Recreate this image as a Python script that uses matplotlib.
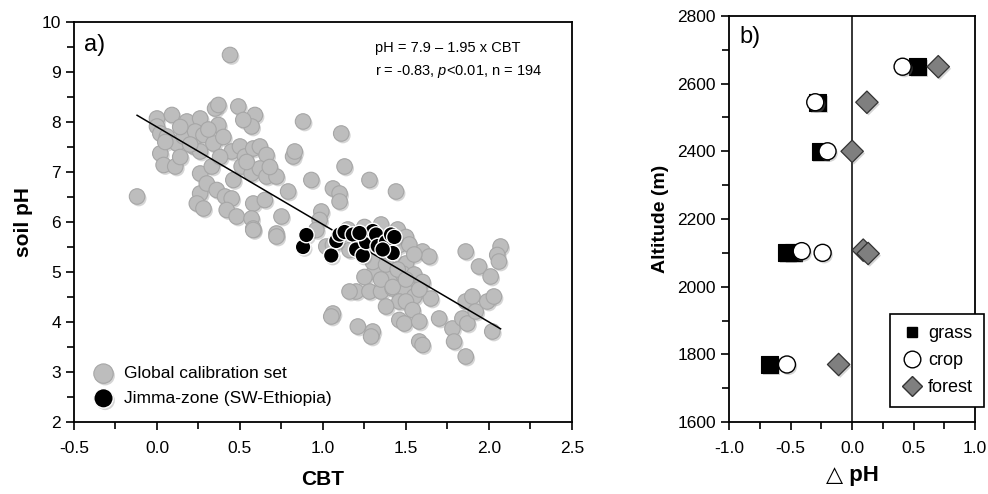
import matplotlib
matplotlib.use("Agg")
import matplotlib.pyplot as plt
from matplotlib.ticker import MultipleLocator
from matplotlib.lines import Line2D
import matplotlib.patheffects as pe
import numpy as np

plt.rcParams['font.family'] = ['Liberation Sans', 'DejaVu Sans']
plt.rcParams['mathtext.fontset'] = 'custom'
plt.rcParams['mathtext.rm'] = 'Liberation Sans'
plt.rcParams['mathtext.it'] = 'Liberation Sans:italic'

# global calibration set (CBT, soil pH)
glob_cbt = [0.44, -0.12, 0.0, 0.09, 0.0, 0.18, 0.26, 0.35, 0.37, 0.49, 0.59, 0.57, 0.52,
            0.02, 0.06, 0.12, 0.16, 0.23, 0.28, 0.22, 0.34, 0.37, 0.02, 0.04, 0.11, 0.26,
            0.26, 0.33, 0.45, 0.50, 0.53, 0.58, 0.62, 0.66, 0.51, 0.57, 0.62, 0.66, 0.72,
            0.46, 0.26, 0.30, 0.36, 0.41, 0.45, 0.24, 0.28, 0.42, 0.48, 0.58, 0.57, 0.65,
            0.58, 0.72, 0.79, 0.75, 0.82, 0.83, 0.88, 0.93, 0.99, 1.06, 1.11, 1.13, 1.10,
            1.10, 1.28, 1.44, 0.98, 0.96, 1.24,
            0.72, 0.58, 1.02, 1.06, 1.16, 1.28, 1.50, 1.46, 1.60, 1.64, 1.86, 2.07, 2.05,
            2.06, 1.94, 2.01, 1.31, 1.40, 1.48, 1.20, 1.16, 1.28, 1.35, 1.42, 1.50, 1.55,
            1.46, 1.50, 1.54, 1.65, 1.38, 1.06, 1.05, 1.21, 1.30, 1.29, 1.46, 1.49, 1.58,
            1.70, 1.58, 1.60, 1.78, 1.79, 1.84, 1.87, 1.86, 1.90, 1.92, 1.99, 2.03, 2.02,
            1.86, 1.15, 1.25, 1.35, 1.45, 1.50, 1.52, 1.55, 1.30, 1.38, 1.45, 1.55, 1.60,
            1.35, 1.25, 1.42, 1.50, 1.58,
            0.05, 0.14, 0.31, 0.40, 0.20, 0.54, 0.68, 0.38, 0.14]
glob_ph = [9.34, 6.51, 8.07, 8.14, 7.91, 8.01, 8.07, 8.27, 8.34, 8.31, 8.14, 7.91, 8.04,
           7.77, 7.71, 7.57, 7.71, 7.81, 7.74, 7.51, 7.57, 7.94, 7.37, 7.14, 7.11, 6.97,
           7.41, 7.11, 7.41, 7.51, 7.31, 7.47, 7.51, 7.34, 7.11, 6.97, 7.07, 6.91, 6.91,
           6.84, 6.57, 6.77, 6.64, 6.51, 6.47, 6.37, 6.27, 6.24, 6.11, 6.37, 6.07, 6.44,
           5.87, 5.77, 6.61, 6.11, 7.31, 7.41, 8.01, 6.84, 6.21, 6.67, 7.77, 7.11, 6.57,
           6.41, 6.84, 6.61, 6.04, 5.84, 5.84,
           5.71, 5.84, 5.51, 5.54, 5.44, 5.31, 5.17, 5.54, 5.41, 5.31, 5.41, 5.51, 5.34,
           5.21, 5.11, 4.91, 5.01, 4.87, 4.97, 4.61, 4.61, 4.61, 4.61, 4.67, 4.61, 4.51,
           4.41, 4.41, 4.24, 4.47, 4.31, 4.17, 4.11, 3.91, 3.81, 3.71, 4.04, 3.97, 4.01,
           4.07, 3.61, 3.54, 3.87, 3.61, 4.07, 3.97, 4.41, 4.51, 4.21, 4.41, 4.51, 3.81,
           3.31, 5.85, 5.90, 5.95, 5.85, 5.70, 5.55, 5.35, 5.20, 5.15, 5.05, 4.95, 4.80,
           4.85, 4.90, 4.70, 4.85, 4.65,
           7.60, 7.90, 7.85, 7.70, 7.55, 7.20, 7.10, 7.30, 7.30]

# Jimma zone (SW Ethiopia)
jim_cbt = [0.88, 0.90, 1.05, 1.08, 1.10, 1.13, 1.18, 1.20, 1.24, 1.26, 1.30, 1.32, 1.33,
           1.38, 1.41, 1.42, 1.43, 1.22, 1.36]
jim_ph = [5.50, 5.74, 5.33, 5.62, 5.75, 5.80, 5.75, 5.45, 5.33, 5.60, 5.82, 5.75, 5.52,
          5.60, 5.75, 5.38, 5.70, 5.78, 5.45]

# regression pH = 7.9 - 1.95 x CBT
fit_coef = [-1.95, 7.9]
fit_x = [-0.12, 2.07]

# panel b: delta pH vs altitude
grass_dph = [0.53, -0.28, -0.26, -0.53, -0.48, -0.67]
grass_alt = [2650, 2545, 2400, 2100, 2100, 1770]
crop_dph = [0.41, -0.30, -0.20, -0.41, -0.24, -0.53]
crop_alt = [2650, 2545, 2400, 2105, 2100, 1770]
forest_dph = [0.70, 0.12, 0.0, 0.09, 0.13, -0.11]
forest_alt = [2650, 2545, 2400, 2108, 2098, 1770]

shadow = [pe.SimplePatchShadow(offset=(1.2, -1.5), shadow_rgbFace='#888888', alpha=0.35),
          pe.Normal()]

fig = plt.figure(figsize=(9.88, 4.94), dpi=100)
ax1 = fig.add_axes([0.0749, 0.1457, 0.504, 0.8098])
ax2 = fig.add_axes([0.738, 0.1457, 0.249, 0.822])

# ---- panel a
ax1.scatter(glob_cbt, glob_ph, s=125, c='#bdbdbd', edgecolors='#a6a6a6', linewidths=0.8,
            zorder=2, label='Global calibration set', path_effects=shadow)
ax1.scatter(jim_cbt, jim_ph, s=125, c='black', edgecolors='white', linewidths=1.0,
            zorder=4, label='Jimma-zone (SW-Ethiopia)', path_effects=shadow)
fx = np.array(fit_x)
ax1.plot(fx, np.polyval(fit_coef, fx), color='black', lw=1.1, zorder=3)

ax1.set_xlim(-0.5, 2.5)
ax1.set_ylim(2, 10)
ax1.xaxis.set_major_locator(MultipleLocator(0.5))
ax1.xaxis.set_minor_locator(MultipleLocator(0.25))
ax1.yaxis.set_major_locator(MultipleLocator(1))
ax1.yaxis.set_minor_locator(MultipleLocator(0.5))
ax1.xaxis.set_major_formatter(plt.FuncFormatter(lambda v, p: '%.1f' % v))
ax1.tick_params(which='both', direction='out', labelsize=12.5, width=1.2)
ax1.tick_params(which='major', length=6)
ax1.tick_params(which='minor', length=5)
ax1.tick_params(axis='x', pad=8)
for s in ax1.spines.values():
    s.set_linewidth(1.3)
ax1.set_xlabel('CBT', fontsize=15, fontweight='bold', labelpad=10)
ax1.set_ylabel('soil pH', fontsize=15, fontweight='bold', labelpad=6)
ax1.text(0.02, 0.97, 'a)', transform=ax1.transAxes, fontsize=17, va='top', ha='left')
ax1.text(0.605, 0.935, 'pH = 7.9 \u2013 1.95 x CBT', transform=ax1.transAxes,
         fontsize=10.5, va='center', ha='left')
ax1.text(0.605, 0.875, r'r = -0.83, $\it{p}$<0.01, n = 194', transform=ax1.transAxes,
         fontsize=10.5, va='center', ha='left')
ax1.legend(loc='lower left', bbox_to_anchor=(0.0, 0.01), frameon=False, fontsize=12.5,
           handletextpad=0.2, labelspacing=0.55, borderaxespad=0.3, markerscale=1.25)

# ---- panel b
ax2.axvline(0, color='black', lw=1.1, zorder=1)
ax2.scatter(grass_dph, grass_alt, s=150, marker='s', c='black', edgecolors='black',
            linewidths=0.8, zorder=3, label='grass', path_effects=shadow)
ax2.scatter(crop_dph, crop_alt, s=150, marker='o', c='white', edgecolors='black',
            linewidths=1.0, zorder=4, label='crop', path_effects=shadow)
ax2.scatter(forest_dph, forest_alt, s=130, marker='D', c='#7f7f7f', edgecolors='#333333',
            linewidths=0.9, zorder=3, label='forest', path_effects=shadow)
ax2.set_xlim(-1, 1)
ax2.set_ylim(1600, 2800)
ax2.xaxis.set_major_locator(MultipleLocator(0.5))
ax2.xaxis.set_minor_locator(MultipleLocator(0.25))
ax2.yaxis.set_major_locator(MultipleLocator(200))
ax2.yaxis.set_minor_locator(MultipleLocator(100))
ax2.xaxis.set_major_formatter(plt.FuncFormatter(lambda v, p: '%.1f' % v))
ax2.tick_params(which='both', direction='out', labelsize=12.5, width=1.2)
ax2.tick_params(which='major', length=6)
ax2.tick_params(which='minor', length=5)
ax2.tick_params(axis='x', pad=8)
for s in ax2.spines.values():
    s.set_linewidth(1.3)
ax2.set_xlabel('\u25b3 pH', fontsize=16, fontweight='bold', labelpad=6)
ax2.set_ylabel('Altitude (m)', fontsize=14, fontweight='bold', labelpad=6)
ax2.text(0.04, 0.975, 'b)', transform=ax2.transAxes, fontsize=17, va='top', ha='left')

hnd = [Line2D([], [], ls='', marker='s', ms=7, mfc='black', mec='black'),
       Line2D([], [], ls='', marker='o', ms=12, mfc='white', mec='black', mew=1.0),
       Line2D([], [], ls='', marker='D', ms=10, mfc='#7f7f7f', mec='#333333')]
leg = ax2.legend(hnd, ['grass', 'crop', 'forest'], loc='lower left',
                 bbox_to_anchor=(0.654, 0.037), fontsize=13, frameon=True,
                 fancybox=False, edgecolor='black', framealpha=1, handletextpad=0.3,
                 handlelength=1.2, borderpad=0.6, labelspacing=0.55, borderaxespad=0)
leg.get_frame().set_linewidth(1.2)
leg.set_zorder(10)

fig.savefig('out.png', dpi=100)
